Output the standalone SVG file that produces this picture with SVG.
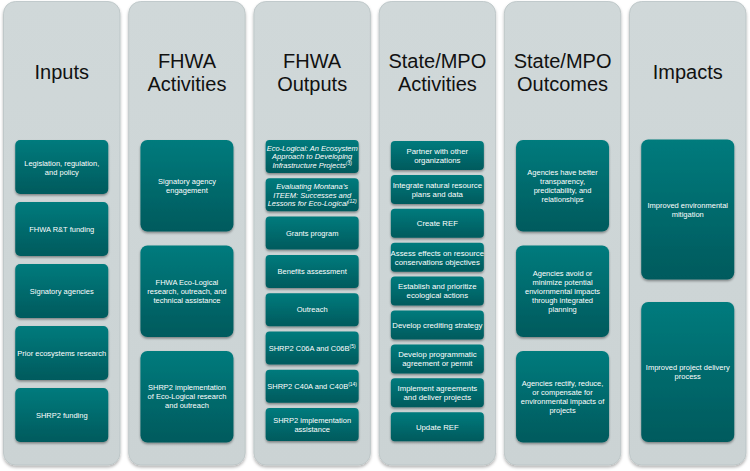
<svg xmlns="http://www.w3.org/2000/svg" width="750" height="471" viewBox="0 0 750 471">
<defs>
<linearGradient id="teal" x1="0" y1="0" x2="0" y2="1">
<stop offset="0" stop-color="#007B7D"/>
<stop offset="1" stop-color="#005A5D"/>
</linearGradient>
<linearGradient id="gray" x1="0" y1="0" x2="0" y2="1">
<stop offset="0" stop-color="#D0D8D9"/>
<stop offset="1" stop-color="#CBD3D4"/>
</linearGradient>
<filter id="sh" x="-10%" y="-10%" width="120%" height="130%">
<feDropShadow dx="0" dy="1.5" stdDeviation="1" flood-color="#000" flood-opacity="0.4"/>
</filter>
<filter id="csh" x="-10%" y="-5%" width="120%" height="110%">
<feDropShadow dx="0" dy="2" stdDeviation="1.5" flood-color="#000" flood-opacity="0.3"/>
</filter>
</defs>
<style>
.col{fill:url(#gray);stroke:#B9C3C4;stroke-width:0.8;filter:url(#csh)}
.box{fill:url(#teal);filter:url(#sh)}
.hd{font-family:"Liberation Sans",Arial,sans-serif;font-size:20px;fill:#111;text-anchor:middle}
.t{font-family:"Liberation Sans",Arial,sans-serif;font-size:7.5px;fill:#fff;text-anchor:middle}
.t4{font-family:"Liberation Sans",Arial,sans-serif;font-size:7.8px;fill:#fff;text-anchor:middle}
.it{font-style:italic}
.sup{font-size:5px}
</style>
<rect width="750" height="471" fill="#fff"/>

<g id="col-inputs">
<rect class="col" x="3.5" y="1.5" width="116.5" height="463.5" rx="12"/>
<text class="hd" x="61.75" y="78.5">Inputs</text>
</g>
<g id="col-fhwa-activities">
<rect class="col" x="128.7" y="1.5" width="116.5" height="463.5" rx="12"/>
<text class="hd" x="186.95" y="67.5">FHWA</text>
<text class="hd" x="186.95" y="90.5">Activities</text>
</g>
<g id="col-fhwa-outputs">
<rect class="col" x="253.9" y="1.5" width="116.5" height="463.5" rx="12"/>
<text class="hd" x="312.15" y="67.5">FHWA</text>
<text class="hd" x="312.15" y="90.5">Outputs</text>
</g>
<g id="col-state-activities">
<rect class="col" x="379.1" y="1.5" width="116.5" height="463.5" rx="12"/>
<text class="hd" x="437.35" y="67.5">State/MPO</text>
<text class="hd" x="437.35" y="90.5">Activities</text>
</g>
<g id="col-state-outcomes">
<rect class="col" x="504.3" y="1.5" width="116.5" height="463.5" rx="12"/>
<text class="hd" x="562.55" y="67.5">State/MPO</text>
<text class="hd" x="562.55" y="90.5">Outcomes</text>
</g>
<g id="col-impacts">
<rect class="col" x="629.5" y="1.5" width="116.5" height="463.5" rx="12"/>
<text class="hd" x="687.75" y="78.5">Impacts</text>
</g>

<!-- Inputs -->
<g id="in1"><rect class="box" x="15.25" y="140" width="93" height="54" rx="5"/>
<text class="t" x="61.75" y="165.7">Legislation, regulation,</text><text class="t" x="61.75" y="174.7">and policy</text></g>
<g id="in2"><rect class="box" x="15.25" y="202" width="93" height="54" rx="5"/>
<text class="t" x="61.75" y="231.7">FHWA R&amp;T funding</text></g>
<g id="in3"><rect class="box" x="15.25" y="264" width="93" height="54" rx="5"/>
<text class="t" x="61.75" y="293.7">Signatory agencies</text></g>
<g id="in4"><rect class="box" x="15.25" y="326" width="93" height="54" rx="5"/>
<text class="t" x="61.75" y="355.7">Prior ecosystems research</text></g>
<g id="in5"><rect class="box" x="15.25" y="388" width="93" height="54" rx="5"/>
<text class="t" x="61.75" y="417.7">SHRP2 funding</text></g>

<!-- FHWA Activities -->
<g id="fa1"><rect class="box" x="140.45" y="140" width="93" height="91.5" rx="7"/>
<text class="t" x="186.95" y="183.95">Signatory agency</text><text class="t" x="186.95" y="192.95">engagement</text></g>
<g id="fa2"><rect class="box" x="140.45" y="245.5" width="93" height="91.5" rx="7"/>
<text class="t" x="186.95" y="284.95">FHWA Eco-Logical</text><text class="t" x="186.95" y="293.95">research, outreach, and</text><text class="t" x="186.95" y="302.95">technical assistance</text></g>
<g id="fa3"><rect class="box" x="140.45" y="351" width="93" height="91.5" rx="7"/>
<text class="t" x="186.95" y="390.45">SHRP2 implementation</text><text class="t" x="186.95" y="399.45">of Eco-Logical research</text><text class="t" x="186.95" y="408.45">and outreach</text></g>

<!-- FHWA Outputs -->
<g id="fo1"><rect class="box" x="265.65" y="140" width="93" height="33" rx="4"/>
<text class="t it" x="312.15" y="150.9">Eco-Logical: An Ecosystem</text><text class="t it" x="312.15" y="159.2">Approach to Developing</text><text class="t it" x="312.15" y="167.5">Infrastructure Projects<tspan class="sup" dy="-2.8">(3)</tspan></text></g>
<g id="fo2"><rect class="box" x="265.65" y="178.3" width="93" height="33" rx="4"/>
<text class="t it" x="312.15" y="189.2">Evaluating Montana’s</text><text class="t it" x="312.15" y="197.5">ITEEM: Successes and</text><text class="t it" x="312.15" y="205.8">Lessons for Eco-Logical<tspan class="sup" dy="-2.8">(12)</tspan></text></g>
<g id="fo3"><rect class="box" x="265.65" y="216.6" width="93" height="33" rx="4"/>
<text class="t" x="312.15" y="235.8">Grants program</text></g>
<g id="fo4"><rect class="box" x="265.65" y="254.9" width="93" height="33" rx="4"/>
<text class="t" x="312.15" y="274.1">Benefits assessment</text></g>
<g id="fo5"><rect class="box" x="265.65" y="293.2" width="93" height="33" rx="4"/>
<text class="t" x="312.15" y="312.4">Outreach</text></g>
<g id="fo6"><rect class="box" x="265.65" y="331.5" width="93" height="33" rx="4"/>
<text class="t" x="312.15" y="350.7">SHRP2 C06A and C06B<tspan class="sup" dy="-2.8">(5)</tspan></text></g>
<g id="fo7"><rect class="box" x="265.65" y="369.8" width="93" height="33" rx="4"/>
<text class="t" x="312.15" y="389">SHRP2 C40A and C40B<tspan class="sup" dy="-2.8">(14)</tspan></text></g>
<g id="fo8"><rect class="box" x="265.65" y="408.1" width="93" height="33" rx="4"/>
<text class="t" x="312.15" y="422.8">SHRP2 implementation</text><text class="t" x="312.15" y="431.8">assistance</text></g>

<!-- State/MPO Activities -->
<g id="sa1"><rect class="box" x="390.85" y="141" width="93" height="29" rx="4"/>
<text class="t4" x="437.35" y="153.8">Partner with other</text><text class="t4" x="437.35" y="162.8">organizations</text></g>
<g id="sa2"><rect class="box" x="390.85" y="174.9" width="93" height="29" rx="4"/>
<text class="t4" x="437.35" y="187.7">Integrate natural resource</text><text class="t4" x="437.35" y="196.7">plans and data</text></g>
<g id="sa3"><rect class="box" x="390.85" y="208.8" width="93" height="29" rx="4"/>
<text class="t4" x="437.35" y="226.1">Create REF</text></g>
<g id="sa4"><rect class="box" x="390.85" y="242.7" width="93" height="29" rx="4"/>
<text class="t4" x="437.35" y="255.5">Assess effects on resource</text><text class="t4" x="437.35" y="264.5">conservations objectives</text></g>
<g id="sa5"><rect class="box" x="390.85" y="276.6" width="93" height="29" rx="4"/>
<text class="t4" x="437.35" y="289.4">Establish and prioritize</text><text class="t4" x="437.35" y="298.4">ecological actions</text></g>
<g id="sa6"><rect class="box" x="390.85" y="310.5" width="93" height="29" rx="4"/>
<text class="t4" x="437.35" y="327.8">Develop crediting strategy</text></g>
<g id="sa7"><rect class="box" x="390.85" y="344.4" width="93" height="29" rx="4"/>
<text class="t4" x="437.35" y="357.2">Develop programmatic</text><text class="t4" x="437.35" y="366.2">agreement or permit</text></g>
<g id="sa8"><rect class="box" x="390.85" y="378.3" width="93" height="29" rx="4"/>
<text class="t4" x="437.35" y="391.1">Implement agreements</text><text class="t4" x="437.35" y="400.1">and deliver projects</text></g>
<g id="sa9"><rect class="box" x="390.85" y="412.2" width="93" height="29" rx="4"/>
<text class="t4" x="437.35" y="429.5">Update REF</text></g>

<!-- State/MPO Outcomes -->
<g id="so1"><rect class="box" x="516.05" y="140" width="93" height="91.5" rx="7"/>
<text class="t" x="562.55" y="174.95">Agencies have better</text><text class="t" x="562.55" y="183.95">transparency,</text><text class="t" x="562.55" y="192.95">predictability, and</text><text class="t" x="562.55" y="201.95">relationships</text></g>
<g id="so2"><rect class="box" x="516.05" y="245.5" width="93" height="91.5" rx="7"/>
<text class="t" x="562.55" y="275.95">Agencies avoid or</text><text class="t" x="562.55" y="284.95">minimize potential</text><text class="t" x="562.55" y="293.95">enviornmental impacts</text><text class="t" x="562.55" y="302.95">through integrated</text><text class="t" x="562.55" y="311.95">planning</text></g>
<g id="so3"><rect class="box" x="516.05" y="351" width="93" height="91.5" rx="7"/>
<text class="t" x="562.55" y="385.95">Agencies rectify, reduce,</text><text class="t" x="562.55" y="394.95">or compensate for</text><text class="t" x="562.55" y="403.95">environmental impacts of</text><text class="t" x="562.55" y="412.95">projects</text></g>

<!-- Impacts -->
<g id="im1"><rect class="box" x="641.25" y="139.5" width="93" height="140" rx="7"/>
<text class="t" x="687.75" y="207.7">Improved environmental</text><text class="t" x="687.75" y="216.7">mitigation</text></g>
<g id="im2"><rect class="box" x="641.25" y="302" width="93" height="140" rx="7"/>
<text class="t" x="687.75" y="370.2">Improved project delivery</text><text class="t" x="687.75" y="379.2">process</text></g>

<g id="connectors"></g>
</svg>
